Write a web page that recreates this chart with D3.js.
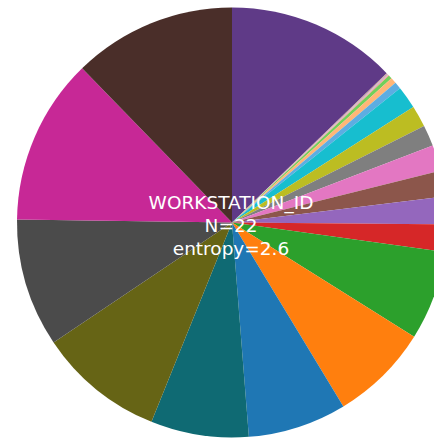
<!DOCTYPE html>
<html>
<head>
<meta charset="utf-8">
<script src="https://cdn.jsdelivr.net/npm/d3@7"></script>
<style>
    html, body { margin: 0; padding: 0; background: #ffffff; overflow: hidden; }
    svg { display: block; }
</style>
</head>
<body>
<svg id="pie"></svg>
<script>
// Slice data, clockwise from 12 o'clock (share of the circle)
const categories = [
    'ws_01', 'ws_02', 'ws_03', 'ws_04', 'ws_05', 'ws_06', 'ws_07', 'ws_08',
    'ws_09', 'ws_10', 'ws_11', 'ws_12', 'ws_13', 'ws_14', 'ws_15', 'ws_16',
    'ws_17', 'ws_18', 'ws_19', 'ws_20', 'ws_21', 'ws_22'
];
const values = [
    46.0, 0.3, 0.3, 0.3, 1.0, 1.6, 1.9, 6.1, 5.8, 5.7, 7.0,
    7.0, 7.5, 7.4, 24.2, 26.7, 26.7, 26.5, 34.1, 34.7, 45.0, 44.2
];
const colors = [
    '#5f3a87', '#c49c94', '#c5b0d5', '#ff9896', '#72cf5a', '#ffb677',
    '#5dade2', '#17becf', '#bcbd22', '#7f7f7f', '#e377c2', '#8c564b',
    '#9467bd', '#d62728', '#2ca02c', '#ff7f0e', '#1f77b4', '#0f6a73',
    '#666415', '#4b4b4b', '#c72896', '#4a2e29'
];
const titleLines = ['WORKSTATION_ID', 'N=22', 'entropy=2.6'];

// Canvas
const width = 434;
const height = 438;
const cx = 232;
const cy = 222.5;
const radius = 215;

const svg = d3.select('#pie')
    .attr('width', width)
    .attr('height', height);

const g = svg.append('g')
    .attr('transform', `translate(${cx},${cy})`);

const color = d3.scaleOrdinal()
    .domain(categories)
    .range(colors);

const pie = d3.pie()
    .sort(null)
    .value(d => d.value);

const arc = d3.arc()
    .innerRadius(0)
    .outerRadius(radius);

const slices = categories.map((c, i) => ({ name: c, value: values[i] }));

// Draw slices
g.selectAll('path')
    .data(pie(slices))
    .enter()
    .append('path')
    .attr('d', arc)
    .attr('fill', d => color(d.data.name));

// Centre label
g.append('text')
    .attr('text-anchor', 'middle')
    .attr('fill', '#ffffff')
    .style('font-family', 'DejaVu Sans, Verdana, sans-serif')
    .style('font-size', '18.5px')
    .selectAll('tspan')
    .data(titleLines)
    .enter()
    .append('tspan')
    .attr('x', -1)
    .attr('y', (d, i) => -14 + i * 23)
    .text(d => d);
</script>
</body>
</html>
